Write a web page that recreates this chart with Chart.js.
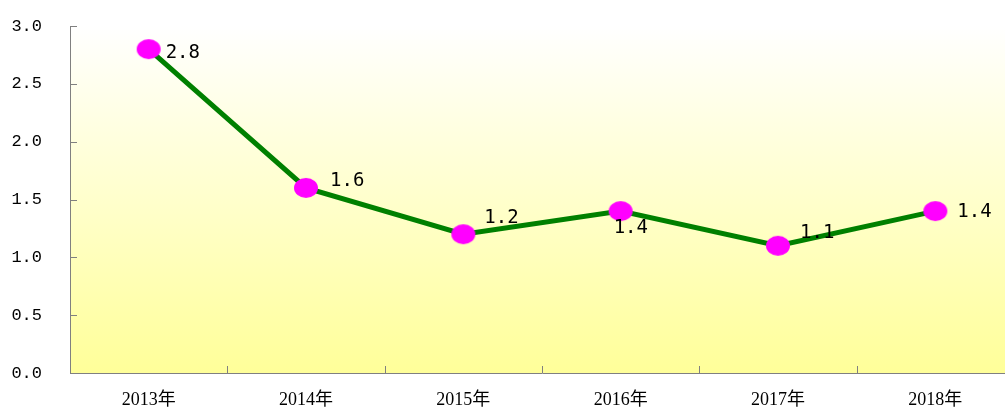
<!DOCTYPE html>
<html>
<head>
<meta charset="utf-8">
<script src="https://cdn.jsdelivr.net/npm/chart.js@4/dist/chart.umd.min.js"></script>
<style>
  html, body { margin: 0; padding: 0; background: #fff; overflow: hidden; }
  #wrap { width: 1030px; height: 408px; }
</style>
</head>
<body>
<div id="wrap"><canvas id="myChart" width="1030" height="408"></canvas></div>
<script>
// 数据
const years = ['2013年', '2014年', '2015年', '2016年', '2017年', '2018年'];
const values = [2.8, 1.6, 1.2, 1.4, 1.1, 1.4];
const yTicks = [0, 0.5, 1.0, 1.5, 2.0, 2.5, 3.0];

// 标签偏移 (相对数据点)
const labelOffsets = [[17, 4], [24, -7], [21, -16], [-7, 17], [22, -13], [22, 1]];

// 椭圆形数据点
const dot = document.createElement('canvas');
dot.width = 26; dot.height = 22;
const dctx = dot.getContext('2d');
dctx.fillStyle = '#ff00ff';
dctx.beginPath();
dctx.ellipse(13, 11, 12, 10, 0, 0, Math.PI * 2);
dctx.fill();

// 背景渐变、刻度线、数据标签
const decor = {
    id: 'decor',
    beforeDraw(chart) {
        const { ctx, chartArea: a } = chart;
        const g = ctx.createLinearGradient(0, a.top, 0, a.bottom);
        g.addColorStop(0, '#ffffff');
        g.addColorStop(1, '#ffff99');
        ctx.save();
        ctx.fillStyle = g;
        ctx.fillRect(a.left, a.top, a.right - a.left, a.bottom - a.top);
        ctx.restore();
    },
    afterDraw(chart) {
        const { ctx, chartArea: a, scales } = chart;
        ctx.save();
        ctx.strokeStyle = '#808080';
        ctx.lineWidth = 1;
        ctx.beginPath();
        yTicks.forEach(v => {
            const y = Math.round(scales.y.getPixelForValue(v)) + 0.5;
            ctx.moveTo(a.left, y);
            ctx.lineTo(a.left + 7, y);
        });
        const w = (a.right - a.left) / years.length;
        for (let i = 1; i < years.length; i++) {
            const x = Math.round(a.left + i * w) + 0.5;
            ctx.moveTo(x, a.bottom);
            ctx.lineTo(x, a.bottom - 7);
        }
        ctx.stroke();

        ctx.fillStyle = '#000';
        ctx.font = '19px "DejaVu Sans Mono"';
        ctx.textAlign = 'left';
        ctx.textBaseline = 'middle';
        chart.getDatasetMeta(0).data.forEach((p, i) => {
            const o = labelOffsets[i];
            ctx.fillText(values[i].toFixed(1), p.x + o[0], p.y + o[1]);
        });
        ctx.restore();
    }
};

const ctx = document.getElementById('myChart').getContext('2d');
new Chart(ctx, {
    type: 'line',
    data: {
        labels: years,
        datasets: [{
            data: values,
            borderColor: '#008000',
            borderWidth: 5,
            pointStyle: dot,
            pointRadius: 11,
            pointHoverRadius: 11,
            fill: false,
            tension: 0
        }]
    },
    options: {
        responsive: false,
        animation: false,
        events: [],
        layout: { padding: { top: 26, right: 10, left: 0, bottom: 0 } },
        plugins: { legend: { display: false }, tooltip: { enabled: false } },
        scales: {
            x: {
                offset: true,
                grid: { display: false, offset: true },
                border: { display: true, color: '#808080', width: 1 },
                ticks: {
                    color: '#000',
                    font: { family: '"Liberation Serif", "Noto Sans CJK SC"', size: 18 },
                    padding: 8,
                    maxRotation: 0
                },
                afterFit(s) { s.height = 35; s.paddingLeft = 0; s.paddingRight = 0; }
            },
            y: {
                min: 0,
                max: 3,
                grid: { display: false },
                border: { display: true, color: '#808080', width: 1 },
                ticks: {
                    stepSize: 0.5,
                    color: '#000',
                    font: { family: '"Liberation Mono"', size: 17 },
                    padding: 20,
                    callback: v => v.toFixed(1)
                },
                afterFit(s) { s.width = 70; s.paddingTop = 0; s.paddingBottom = 0; }
            }
        }
    },
    plugins: [decor]
});
</script>
</body>
</html>
